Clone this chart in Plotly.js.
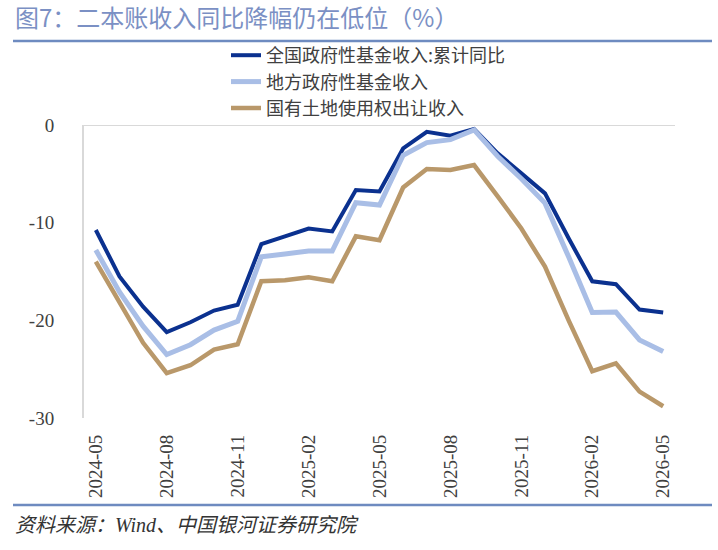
<!DOCTYPE html>
<html>
<head>
<meta charset="utf-8">
<script src="https://cdn.plot.ly/plotly-3.0.1.min.js"></script>
<style>html,body{margin:0;padding:0;background:#fff;}#chart{width:718px;height:550px;}</style>
</head>
<body>
<div id="chart"></div>
<script>
const months = ["2024-05","2024-06","2024-07","2024-08","2024-09","2024-10","2024-11","2024-12",
  "2025-01","2025-02","2025-03","2025-04","2025-05","2025-06","2025-07","2025-08","2025-09","2025-10",
  "2025-11","2025-12","2026-01","2026-02","2026-03","2026-04","2026-05"];
const tickMonths = ["2024-05","2024-08","2024-11","2025-02","2025-05","2025-08","2025-11","2026-02","2026-05"];
const nationalFund = [-10.75,-15.5,-18.6,-21.2,-20.2,-19.0,-18.4,-12.2,-11.4,-10.6,-10.9,-6.65,-6.8,-2.4,-0.7,-1.1,-0.4,-2.9,-4.95,-7.0,-11.6,-16.0,-16.3,-18.9,-19.2];
const localFund = [-12.8,-17.1,-20.6,-23.5,-22.5,-21.0,-20.1,-13.5,-13.2,-12.9,-12.9,-7.95,-8.2,-3.1,-1.8,-1.5,-0.5,-3.2,-5.5,-8.0,-13.5,-19.2,-19.15,-22.0,-23.2];
const landSale = [-14.0,-18.2,-22.3,-25.4,-24.6,-23.0,-22.45,-16.0,-15.9,-15.6,-16.0,-11.4,-11.8,-6.4,-4.5,-4.6,-4.1,-7.3,-10.6,-14.5,-20.0,-25.2,-24.4,-27.3,-28.8];
const seriesNames = ["全国政府性基金收入:累计同比","地方政府性基金收入","国有土地使用权出让收入"];
const yTicks = [0,-10,-20,-30];

const font = "'Noto Sans CJK SC', 'Noto Sans', sans-serif";
const serif = "'Liberation Serif', 'DejaVu Serif', 'Noto Sans CJK SC', serif";
const traces = [
  {x: months, y: nationalFund, name: seriesNames[0], type: "scatter", mode: "lines",
   line: {color: "#0B318F", width: 4}},
  {x: months, y: localFund, name: seriesNames[1], type: "scatter", mode: "lines",
   line: {color: "#A9BEE6", width: 5}},
  {x: months, y: landSale, name: seriesNames[2], type: "scatter", mode: "lines",
   line: {color: "#B9986A", width: 4.5}}
];
const L = 84, R = 43, T = 125, B = 132, W = 718, H = 550;
const pw = W - L - R, ph = H - T - B;
const px = v => (v - L) / pw;
const py = v => (H - B - v) / ph;
const layout = {
  width: W, height: H,
  margin: {l: L, r: R, t: T, b: B, pad: 0},
  paper_bgcolor: "#fff", plot_bgcolor: "#fff",
  font: {family: font, color: "#404040"},
  title: {text: "图7：二本账收入同比降幅仍在低位（%）", xref: "container", yref: "container",
    x: 15 / W, xanchor: "left", y: 1 - 19 / H, yanchor: "middle",
    font: {family: font, size: 24, color: "#7B90C4"}},
  showlegend: true,
  legend: {x: px(226), xanchor: "left", y: py(37), yanchor: "top", orientation: "v",
    traceorder: "normal", font: {family: font, size: 18, color: "#404040"},
    bgcolor: "rgba(0,0,0,0)", tracegroupgap: 0, itemwidth: 30},
  xaxis: {type: "category", categoryorder: "array", categoryarray: months,
    tickvals: tickMonths, ticktext: tickMonths, tickangle: -90,
    showgrid: false, zeroline: false, showline: false, ticks: "",
    ticklabelstandoff: 12, tickfont: {family: serif, size: 19, color: "#404040"},
    range: [-0.5, months.length - 0.5], fixedrange: true},
  yaxis: {range: [-30, 0], tickvals: yTicks, ticktext: yTicks.map(String),
    showgrid: false, zeroline: false, showline: true, linecolor: "#D9D9D9", linewidth: 2,
    ticks: "", ticklabelstandoff: 24, tickfont: {family: serif, size: 19, color: "#404040"},
    fixedrange: true},
  shapes: [
    {type: "line", xref: "paper", yref: "y", x0: 0, x1: 1, y0: 0, y1: 0,
     line: {color: "#D9D9D9", width: 2}, layer: "below"},
    {type: "line", xref: "paper", yref: "paper", x0: px(13), x1: px(712), y0: py(41), y1: py(41),
     line: {color: "#6E8BC0", width: 2.5}},
    {type: "line", xref: "paper", yref: "paper", x0: px(13), x1: px(712), y0: py(505), y1: py(505),
     line: {color: "#6E8BC0", width: 2.5}}
  ],
  annotations: [
    {text: "资料来源：Wind、中国银河证券研究院", xref: "paper", yref: "paper",
     x: px(13), y: py(525), xanchor: "left", yanchor: "middle", showarrow: false,
     font: {family: serif, size: 20, color: "#333", style: "italic"}}
  ]
};
Plotly.newPlot("chart", traces, layout, {staticPlot: true, displayModeBar: false});
</script>
</body>
</html>
